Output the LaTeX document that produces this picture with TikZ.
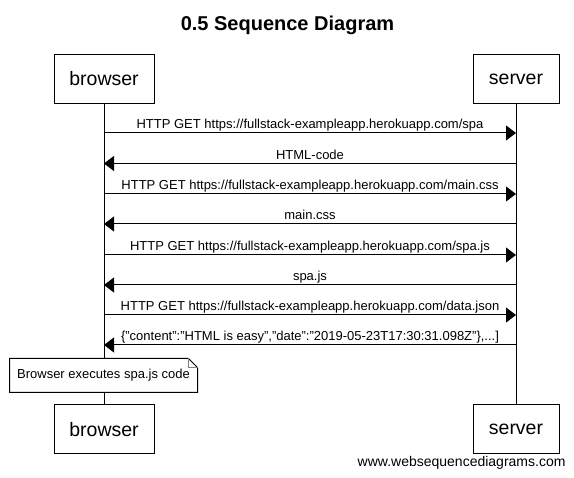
\documentclass[tikz,border=0pt]{standalone}
\usepackage{fontspec}
\setmainfont{Liberation Sans}
\usetikzlibrary{arrows.meta}

\begin{document}
\begin{tikzpicture}[x=1pt, y=-1pt,
				line width=1pt, line join=miter,
				every node/.style = {inner sep=0pt, font=\fontsize{13}{15}\selectfont},
				actor/.style = {draw, fill=white, minimum height=49pt, font=\fontsize{19.5}{22}\selectfont},
				msg/.style = {-{Triangle[length=10pt, width=15pt]}},
				lbl/.style = {anchor=base}
				]
				\useasboundingbox (0,0) rectangle (574,478);
				\node[font=\fontsize{20}{24}\selectfont\bfseries, anchor=base] (title) at (287.5,31) {0.5 Sequence Diagram};
				% participants
				\node[actor, minimum width=100pt] (bt) at (104,79) {browser};
				\node[actor, minimum width=86pt] (st) at (516,79) {server};
				\node[actor, minimum width=100pt] (bb) at (104,429.5) {browser};
				\node[actor, minimum width=86pt] (sb) at (516,429.5) {server};
				\draw (bt) -- (bb);
				\draw (st) -- (sb);
				% message ends
				\coordinate (b1) at (104,133);   \coordinate (s1) at (516,133);
				\coordinate (b2) at (104,163.5); \coordinate (s2) at (516,163.5);
				\coordinate (b3) at (104,194);   \coordinate (s3) at (516,194);
				\coordinate (b4) at (104,224);   \coordinate (s4) at (516,224);
				\coordinate (b5) at (104,255);   \coordinate (s5) at (516,255);
				\coordinate (b6) at (104,285);   \coordinate (s6) at (516,285);
				\coordinate (b7) at (104,315);   \coordinate (s7) at (516,315);
				\coordinate (b8) at (104,345);   \coordinate (s8) at (516,345);
				% messages
				\draw[msg] (b1) -- node[lbl, yshift=4pt] {HTTP GET https://fullstack-exampleapp.herokuapp.com/spa} (s1);
				\draw[msg] (s2) -- node[lbl, yshift=4pt] {HTML-code} (b2);
				\draw[msg] (b3) -- node[lbl, yshift=4pt] {HTTP GET https://fullstack-exampleapp.herokuapp.com/main.css} (s3);
				\draw[msg] (s4) -- node[lbl, yshift=4pt] {main.css} (b4);
				\draw[msg] (b5) -- node[lbl, yshift=4pt] {HTTP GET https://fullstack-exampleapp.herokuapp.com/spa.js} (s5);
				\draw[msg] (s6) -- node[lbl, yshift=4pt] {spa.js} (b6);
				\draw[msg] (b7) -- node[lbl, yshift=4pt] {HTTP GET https://fullstack-exampleapp.herokuapp.com/data.json} (s7);
				\draw[msg] (s8) -- node[lbl, yshift=4pt] {\{"content":"HTML is easy","date":"2019-05-23T17:30:31.098Z"\},...]} (b8);
				% note
				\node[minimum width=187pt, minimum height=33pt] (note) at (103.5,375.5) {};
				\draw[fill=white] (note.north west) -- ([xshift=-9pt]note.north east) -- ([yshift=-9pt]note.north east)
				-- (note.south east) -- (note.south west) -- cycle;
				\draw[line width=0.6pt, gray] ([xshift=-9pt]note.north east) -- ([xshift=-9pt, yshift=-9pt]note.north east)
				-- ([yshift=-9pt]note.north east);
				\node (notetext) at (note) {Browser executes spa.js code};
				\node[anchor=base east, font=\fontsize{14}{16}\selectfont] (site) at (566,467) {www.websequencediagrams.com};
				\end{tikzpicture}
\end{document}
